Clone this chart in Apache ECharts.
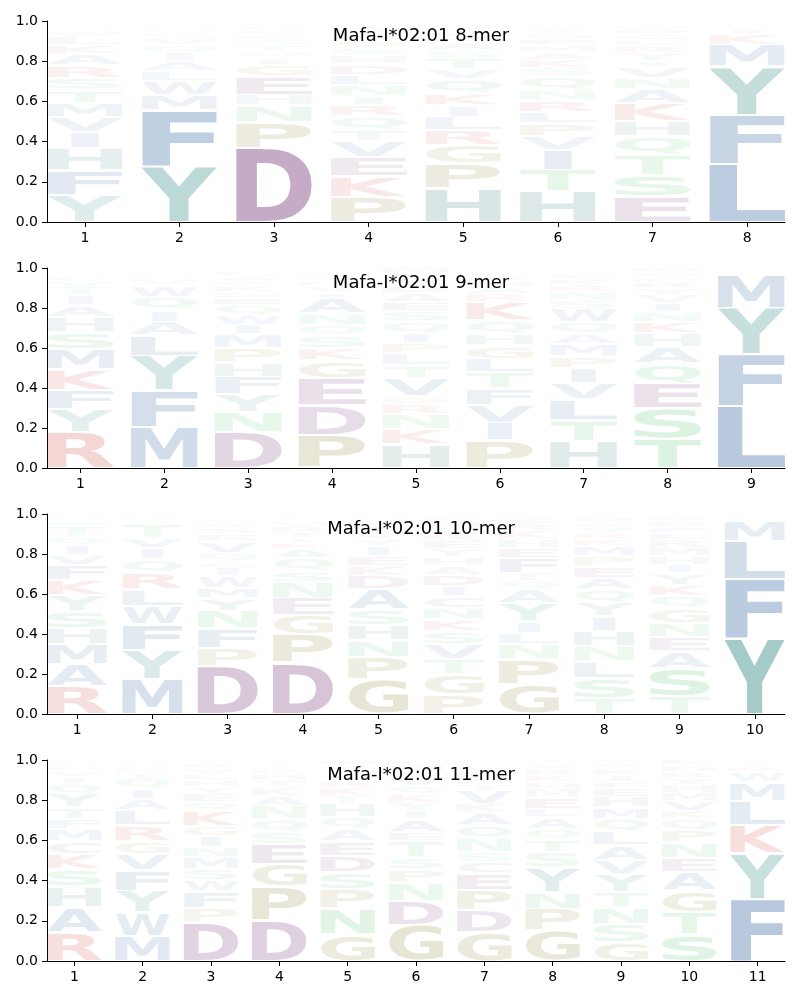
<!DOCTYPE html>
<html><head><meta charset="utf-8">
<script src="https://cdn.jsdelivr.net/npm/echarts@6/dist/echarts.min.js"></script>
<style>html,body{margin:0;padding:0;background:#fff}#c{width:800px;height:1000px}</style>
</head><body><div id="c"></div>
<script>
// ---- DATA (each column listed bottom -> top, [letter, probability]) ----
const titles = ['Mafa-I*02:01 8-mer', 'Mafa-I*02:01 9-mer', 'Mafa-I*02:01 10-mer', 'Mafa-I*02:01 11-mer'];

const logo8 = [
  [['Y',.134],['F',.124],['H',.108],['I',.08],['V',.075],['M',.071],['T',.066],['S',.06],['R',.06],['A',.055],['K',.045],['L',.04],['W',.03],['G',.02],['Q',.015],['E',.01],['N',.007]],
  [['Y',.275],['F',.279],['M',.075],['W',.07],['L',.05],['A',.05],['I',.04],['Q',.04],['V',.035],['S',.025],['H',.02],['T',.015],['R',.012],['N',.008],['E',.006]],
  [['D',.367],['P',.129],['N',.083],['H',.053],['E',.091],['G',.058],['I',.033],['Q',.035],['T',.03],['S',.028],['K',.025],['V',.022],['R',.018],['A',.015],['W',.013]],
  [['P',.126],['K',.1],['E',.095],['V',.08],['T',.058],['Q',.066],['R',.055],['I',.045],['N',.058],['L',.05],['D',.05],['H',.045],['S',.04],['G',.035],['A',.03],['M',.025],['Y',.02],['F',.015],['W',.009]],
  [['H',.167],['P',.124],['G',.091],['R',.075],['L',.066],['I',.058],['K',.058],['Q',.07],['V',.05],['T',.058],['S',.04],['A',.035],['N',.03],['E',.025],['M',.02],['Y',.015],['F',.012],['W',.006]],
  [['H',.151],['T',.108],['I',.1],['V',.066],['P',.066],['L',.058],['R',.058],['N',.05],['Q',.066],['S',.041],['K',.041],['A',.04],['M',.035],['E',.03],['G',.025],['Y',.025],['F',.02],['W',.019]],
  [['E',.126],['S',.108],['T',.1],['Q',.091],['H',.078],['K',.088],['A',.071],['N',.053],['V',.053],['I',.03],['Y',.04],['R',.035],['L',.03],['G',.03],['D',.025],['M',.02],['P',.02]],
  [['L',.289],['F',.244],['Y',.24],['M',.108],['K',.055],['I',.032],['V',.015],['W',.01],['A',.008]]
];

const logo9 = [
  [['R',.177],['Y',.115],['F',.097],['K',.105],['M',.1],['S',.087],['H',.075],['A',.058],['I',.05],['T',.042],['V',.03],['L',.025],['Q',.02],['W',.02]],
  [['M',.205],['F',.183],['Y',.172],['L',.103],['A',.067],['I',.058],['Q',.067],['W',.058],['V',.03],['K',.02],['H',.015],['S',.012],['T',.01]],
  [['D',.177],['N',.103],['Y',.087],['F',.088],['H',.072],['P',.073],['M',.067],['I',.047],['W',.05],['Q',.05],['E',.035],['S',.03],['K',.03],['R',.025],['A',.025],['L',.022],['V',.02]],
  [['P',.163],['D',.15],['E',.137],['G',.088],['K',.062],['S',.063],['Q',.05],['N',.058],['A',.075],['I',.033],['V',.03],['H',.025],['L',.02],['M',.02],['R',.015],['Y',.01]],
  [['H',.117],['K',.075],['N',.075],['R',.05],['G',.04],['V',.09],['T',.065],['L',.06],['P',.05],['I',.05],['Q',.06],['S',.05],['E',.045],['A',.045],['D',.035],['Y',.035],['F',.03],['M',.03]],
  [['P',.138],['I',.088],['V',.09],['F',.083],['T',.08],['L',.067],['G',.067],['H',.058],['Q',.067],['K',.09],['R',.04],['A',.035],['N',.03],['S',.025],['M',.02],['W',.02]],
  [['H',.133],['T',.105],['L',.105],['V',.083],['I',.073],['P',.06],['M',.062],['A',.05],['Q',.058],['W',.067],['S',.045],['N',.04],['R',.035],['K',.03],['E',.025],['Y',.02],['F',.009]],
  [['T',.147],['S',.15],['E',.125],['Q',.1],['A',.083],['H',.067],['K',.058],['N',.05],['I',.042],['V',.04],['Y',.035],['R',.03],['L',.025],['G',.025],['M',.023]],
  [['L',.31],['F',.257],['Y',.23],['M',.17],['W',.015],['I',.01],['V',.008]]
];

const logo10 = [
  [['R',.138],['A',.112],['M',.1],['H',.08],['S',.083],['Y',.08],['K',.078],['F',.075],['V',.05],['I',.05],['Q',.042],['T',.05],['L',.025],['N',.02],['G',.017]],
  [['M',.172],['Y',.145],['F',.13],['W',.092],['L',.083],['R',.083],['Q',.067],['I',.058],['V',.05],['T',.067],['A',.02],['H',.018],['K',.015]],
  [['D',.238],['P',.092],['F',.097],['N',.087],['Y',.063],['M',.053],['W',.06],['I',.04],['G',.033],['Q',.042],['V',.058],['E',.035],['S',.03],['R',.025],['H',.02],['A',.015],['L',.012]],
  [['D',.255],['P',.142],['G',.097],['E',.087],['N',.08],['S',.053],['Q',.067],['A',.042],['K',.033],['I',.025],['T',.03],['R',.03],['H',.025],['V',.02],['L',.015]],
  [['G',.172],['P',.112],['N',.083],['H',.077],['S',.078],['A',.1],['D',.067],['K',.05],['E',.05],['I',.05],['Y',.035],['V',.035],['T',.03],['R',.025],['Q',.02],['M',.017]],
  [['P',.097],['G',.1],['T',.075],['V',.075],['S',.067],['K',.058],['N',.058],['C',.058],['I',.05],['D',.058],['A',.042],['H',.045],['Y',.04],['E',.04],['R',.035],['L',.03],['M',.03],['F',.025],['Q',.017]],
  [['G',.147],['P',.125],['N',.075],['L',.058],['I',.058],['Y',.092],['A',.067],['Q',.042],['T',.042],['F',.075],['E',.05],['H',.045],['K',.04],['R',.035],['S',.03],['M',.02]],
  [['T',.08],['S',.1],['L',.083],['N',.075],['H',.078],['I',.072],['Y',.067],['Q',.067],['A',.058],['E',.058],['P',.05],['M',.05],['K',.035],['R',.03],['V',.03],['G',.025],['D',.022],['F',.02]],
  [['T',.088],['S',.142],['A',.083],['E',.07],['N',.072],['G',.075],['Q',.058],['K',.058],['Y',.058],['I',.042],['H',.045],['M',.04],['R',.04],['L',.035],['F',.03],['P',.03],['D',.025],['V',.01]],
  [['Y',.377],['F',.295],['L',.192],['M',.103],['K',.015],['W',.01],['I',.008]]
];

const logo11 = [
  [['R',.143],['A',.124],['H',.103],['S',.088],['K',.075],['C',.063],['M',.061],['F',.05],['T',.058],['Y',.066],['Q',.05],['I',.035],['V',.03],['L',.025],['N',.015],['E',.014]],
  [['M',.126],['W',.116],['Y',.108],['F',.1],['V',.083],['G',.063],['R',.078],['L',.075],['A',.058],['I',.05],['Q',.05],['T',.03],['K',.025],['H',.02],['S',.019]],
  [['D',.192],['P',.071],['F',.083],['W',.056],['S',.055],['M',.061],['N',.05],['I',.055],['G',.05],['K',.075],['Q',.042],['E',.04],['Y',.035],['H',.035],['L',.03],['V',.03],['R',.025],['T',.015]],
  [['D',.2],['P',.169],['G',.113],['E',.1],['S',.063],['Q',.061],['N',.066],['A',.05],['K',.041],['T',.035],['H',.03],['R',.025],['V',.02],['I',.015],['L',.012]],
  [['G',.134],['N',.128],['P',.096],['S',.083],['D',.083],['E',.071],['A',.061],['Q',.058],['H',.066],['T',.041],['K',.04],['R',.035],['V',.03],['I',.025],['Y',.025],['M',.024]],
  [['G',.176],['D',.124],['N',.091],['P',.066],['S',.058],['T',.08],['E',.045],['A',.066],['I',.04],['Y',.04],['K',.045],['Q',.04],['V',.04],['R',.035],['H',.03],['L',.024]],
  [['G',.143],['D',.108],['P',.1],['E',.083],['C',.058],['S',.05],['N',.066],['Q',.066],['A',.066],['K',.041],['V',.066],['T',.035],['H',.03],['R',.03],['Y',.025],['M',.02],['L',.013]],
  [['G',.151],['P',.108],['N',.083],['Y',.124],['S',.075],['T',.066],['Q',.05],['A',.058],['L',.041],['E',.058],['M',.04],['H',.035],['K',.035],['R',.03],['V',.025],['I',.021]],
  [['G',.093],['S',.091],['N',.083],['T',.075],['Y',.091],['V',.07],['A',.071],['L',.066],['Q',.066],['M',.058],['H',.053],['E',.04],['F',.035],['I',.035],['K',.03],['R',.025],['D',.017]],
  [['S',.134],['T',.108],['G',.108],['A',.091],['E',.071],['N',.078],['P',.061],['Q',.055],['K',.041],['V',.05],['M',.04],['H',.04],['Y',.035],['R',.03],['D',.03],['L',.028]],
  [['F',.308],['Y',.227],['K',.143],['L',.119],['M',.091],['W',.05],['R',.025],['I',.02],['V',.016]]
];

const logos = [logo8, logo9, logo10, logo11];
const yTicks = [0, 0.2, 0.4, 0.6, 0.8, 1.0];

// ---- STYLE ----
const BLUE = '26,82,150', TEAL = '14,117,110', HTEAL = '30,105,105', PURPLE = '97,26,100',
      RED = '190,25,15', OLIVE = '118,106,10', GREEN = '24,173,58', CGRAY = '95,70,110';
const COLORS = {A:BLUE,F:BLUE,I:BLUE,L:BLUE,M:BLUE,V:BLUE,W:BLUE,Y:TEAL,H:HTEAL,D:PURPLE,E:PURPLE,
  K:RED,R:RED,G:OLIVE,P:OLIVE,S:GREEN,T:GREEN,N:GREEN,Q:GREEN,C:CGRAY};
const LETTERS = 'ACDEFGHIKLMNPQRSTVWY';
const FONT = 'bold 100px "DejaVu Sans"';
const GW = 0.8, GAP = 1.15;
const grids = [{top:21,h:201},{top:268,h:200},{top:514,h:200},{top:760,h:201}];
const GL = 47, GR = 15;

const mctx = document.createElement('canvas').getContext('2d');
const metCache = {};
function met(ch){
  if (metCache[ch]) return metCache[ch];
  mctx.font = FONT; mctx.textBaseline = 'middle'; mctx.textAlign = 'left';
  const m = mctx.measureText(ch);
  const r = {l:m.actualBoundingBoxLeft, w:m.actualBoundingBoxLeft+m.actualBoundingBoxRight,
             a:m.actualBoundingBoxAscent, h:m.actualBoundingBoxAscent+m.actualBoundingBoxDescent};
  metCache[ch] = r; return r;
}

function renderLogo(params, api){
  const x = api.value(0), y0 = api.value(1), y1 = api.value(2);
  const ch = LETTERS[api.value(3)], v = api.value(4);
  const pL = api.coord([x - GW/2, y0]);
  const pR = api.coord([x + GW/2, y1]);
  const left = pL[0], right = pR[0], bottom = pL[1] - GAP, top = pR[1] + GAP;
  const W = right - left, H = bottom - top;
  if (H <= 0.2) return null;
  const m = met(ch), mE = met('E');
  const sx = W / Math.max(m.w, mE.w);
  const gl = left + (W - m.w*sx)/2;
  const sy = H / m.h;
  const alpha = Math.min(1, v);
  return {type:'text', x: gl + sx*m.l, y: top + sy*m.a, scaleX: sx, scaleY: sy, silent: true,
    style:{text: ch, x:0, y:0, font: FONT, fill: 'rgba(' + COLORS[ch] + ',' + alpha + ')', align:'left', verticalAlign:'middle'}};
}

const option = {animation:false, backgroundColor:'#fff', graphic:[], grid:[], xAxis:[], yAxis:[], series:[]};
logos.forEach((cols, i) => {
  const N = cols.length;
  const posTicks = cols.map((c, k) => k + 1);
  const g = grids[i];
  option.graphic.push({type:'text', x: 421, y: g.top + 15, z: 100, silent: true,
    style:{text: titles[i], align:'center', verticalAlign:'middle', fill:'#000', font:'18px "DejaVu Sans"'}});
  option.grid.push({left: GL, right: GR, top: g.top, height: g.h, containLabel:false});
  option.xAxis.push({type:'value', gridIndex:i, min:0.6, max:N+0.4, splitLine:{show:false},
    axisLine:{show:true, onZero:false, lineStyle:{color:'#000', width:1}},
    axisTick:{show:true, customValues: posTicks, length:5, lineStyle:{color:'#000'}},
    axisLabel:{show:true, customValues: posTicks, color:'#000', fontSize:14, fontFamily:'DejaVu Sans', margin:9}});
  option.yAxis.push({type:'value', gridIndex:i, min:0, max:1, interval:0.2, splitLine:{show:false},
    axisLine:{show:true, lineStyle:{color:'#000', width:1}},
    axisTick:{show:true, length:5, lineStyle:{color:'#000'}},
    axisLabel:{show:true, customValues: yTicks, formatter: v => v.toFixed(1), color:'#000', fontSize:14, fontFamily:'DejaVu Sans', margin:9}});
  const data = [];
  cols.forEach((col, k) => {
    let base = 0;
    col.forEach(([ch, val]) => {
      data.push([k + 1, base, base + val, LETTERS.indexOf(ch), val]);
      base += val;
    });
  });
  option.series.push({type:'custom', xAxisIndex:i, yAxisIndex:i, renderItem: renderLogo,
    encode:{x:0, y:[1,2]}, data, clip:false, silent:true});
});

const chart = echarts.init(document.getElementById('c'), null, {renderer:'canvas'});
chart.setOption(option);
</script></body></html>
